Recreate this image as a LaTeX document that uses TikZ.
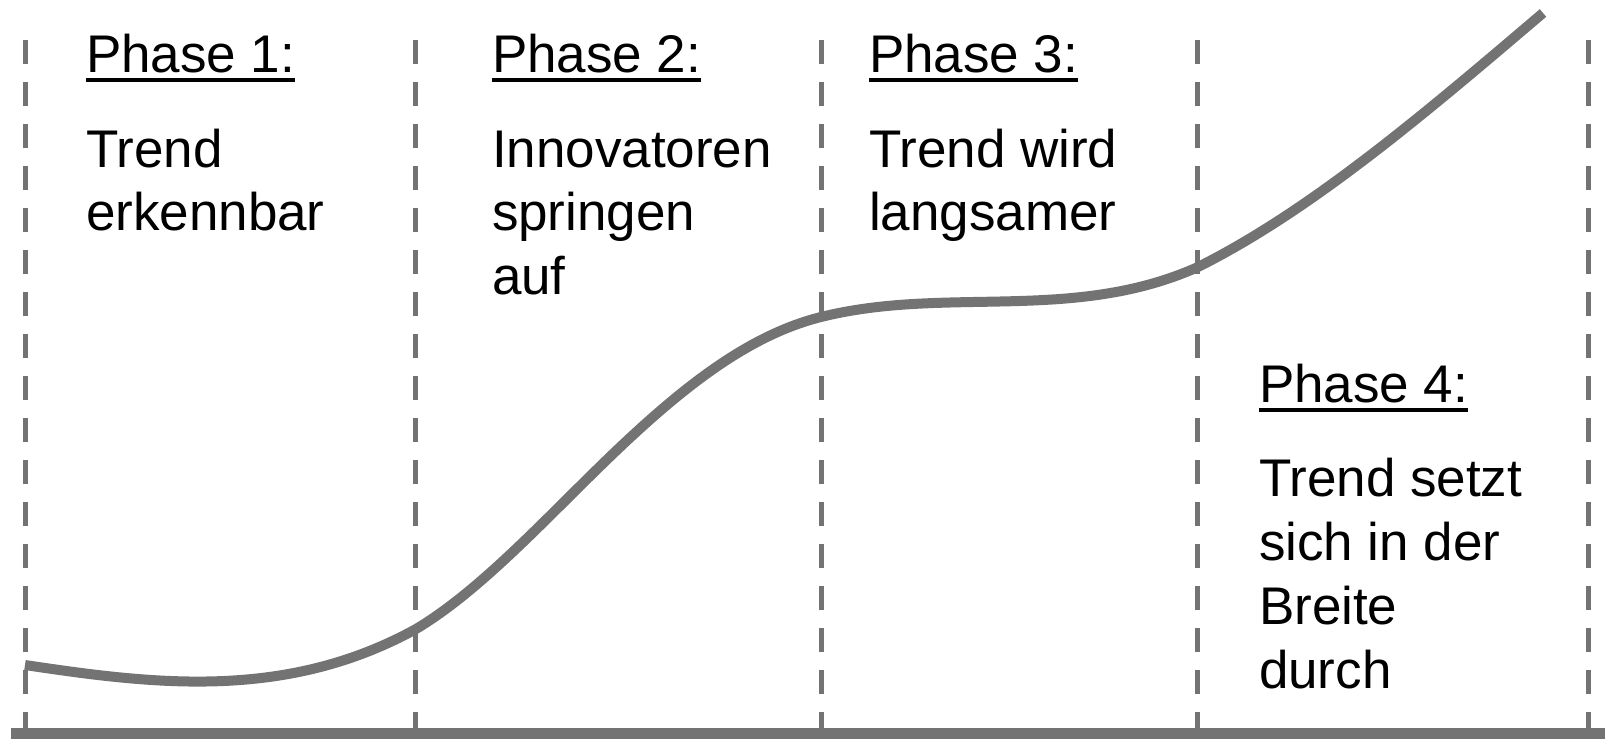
\documentclass[tikz,border=0pt]{standalone}
\usepackage{fontspec}
\setmainfont{Liberation Sans}
\definecolor{lineGray}{RGB}{115,115,115}
\tikzset{
  phaseline/.style={draw=lineGray, line width=2.5pt, dash pattern=on 12pt off 9pt},
  trendcurve/.style={draw=lineGray, line width=5pt},
  axisline/.style={draw=lineGray, line width=5.5pt},
  txt/.style={anchor=base west, inner sep=0pt, outer sep=0pt, font=\fontsize{26.5}{31.5}\selectfont, text=black},
  uline/.style={draw=black, line width=2pt}
}
\begin{document}
\begin{tikzpicture}[x=0.5pt, y=-0.5pt]
\useasboundingbox (0,0) rectangle (1605,739);
% vertical dashed separators
\foreach \xx/\nm in {25/d0, 415.5/d1, 821/d2, 1197/d3, 1588.5/d4} {
  \coordinate (\nm top) at (\xx,40);
  \coordinate (\nm bot) at (\xx,728);
  \draw[phaseline] (\nm top) -- (\nm bot);
}
% trend curve
\coordinate (c0) at (25,665);
\coordinate (c1) at (416,629);
\coordinate (c2) at (617,450);
\coordinate (c3) at (821,317);
\coordinate (c4) at (1198,267);
\coordinate (c5) at (1543,13);
\draw[trendcurve] (c0)
  .. controls (155,684.5) and (286,700.5) .. (c1)
  .. controls (483,589) and (550,513.7) .. (c2)
  .. controls (687,383.5) and (751,334.5) .. (c3)
  .. controls (946,285.75) and (1073,323) .. (c4)
  .. controls (1313,209.5) and (1428,110.75) .. (c5);
% base axis
\coordinate (axL) at (11,733.5);
\coordinate (axR) at (1605,733.5);
\draw[axisline] (axL) -- (axR);
% Phase 1
\node[txt] (h1) at (86,72) {Phase 1:};
\draw[uline] ([yshift=-3.75pt]h1.base west) -- ([yshift=-3.75pt]h1.base east);
\node[txt] (p1a) at (86,167) {Trend};
\node[txt] (p1b) at (86,230) {erkennbar};
% Phase 2
\node[txt] (h2) at (492,72) {Phase 2:};
\draw[uline] ([yshift=-3.75pt]h2.base west) -- ([yshift=-3.75pt]h2.base east);
\node[txt] (p2a) at (492,167) {Innovatoren};
\node[txt] (p2b) at (492,230) {springen};
\node[txt] (p2c) at (492,294) {auf};
% Phase 3
\node[txt] (h3) at (869,72) {Phase 3:};
\draw[uline] ([yshift=-3.75pt]h3.base west) -- ([yshift=-3.75pt]h3.base east);
\node[txt] (p3a) at (869,167) {Trend wird};
\node[txt] (p3b) at (869,230) {langsamer};
% Phase 4
\node[txt] (h4) at (1259,402) {Phase 4:};
\draw[uline] ([yshift=-3.75pt]h4.base west) -- ([yshift=-3.75pt]h4.base east);
\node[txt] (p4a) at (1259,496) {Trend setzt};
\node[txt] (p4b) at (1259,560) {sich in der};
\node[txt] (p4c) at (1259,624) {Breite};
\node[txt] (p4d) at (1259,688) {durch};
\end{tikzpicture}
\end{document}
